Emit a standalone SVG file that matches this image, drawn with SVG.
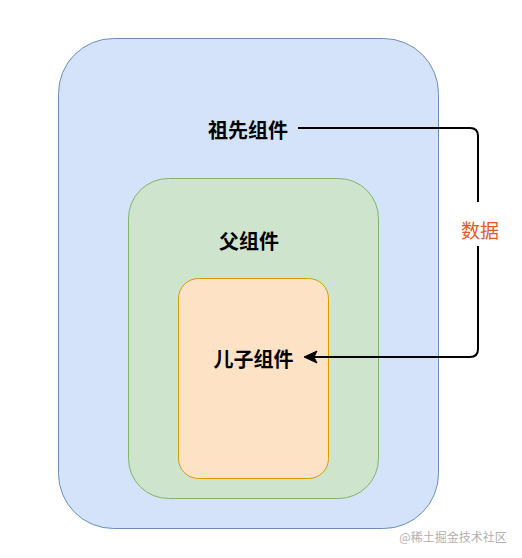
<svg xmlns="http://www.w3.org/2000/svg" width="522" height="558" viewBox="0 0 522 558">
<style>
.lbl{font-family:"Noto Sans CJK SC","Noto Sans",sans-serif;font-weight:bold;font-size:20px;fill:#000;text-anchor:middle;dominant-baseline:central}
.edge{fill:none;stroke:#000;stroke-width:2}
</style>
<rect width="522" height="558" fill="#fff"/>
<g id="ancestor">
<rect x="58.5" y="38.5" width="380" height="490" rx="55" ry="55" fill="#d4e3fa" stroke="#6c8ebf"/>
<text class="lbl" x="248" y="129">祖先组件</text>
</g>
<g id="parent">
<rect x="128.5" y="178.5" width="250" height="320" rx="40" ry="40" fill="#cfe4cd" stroke="#82b366"/>
<text class="lbl" x="249" y="240">父组件</text>
</g>
<g id="child">
<rect x="178.5" y="278.5" width="150" height="200" rx="20" ry="20" fill="#fde2c6" stroke="#d79b00"/>
<text class="lbl" x="253.5" y="358">儿子组件</text>
</g>
<g id="connectors">
<path class="edge" d="M298 128 H470 Q478 128 478 136 V202"/>
<path class="edge" d="M478 246 V349 Q478 357 470 357 H312"/>
<path d="M304 357 L317 351 L314 357 L317 363 Z" fill="#000" stroke="#000" stroke-width="1"/>
<text x="480" y="229" font-family="Noto Sans CJK SC,sans-serif" font-size="19" fill="#e8582a" text-anchor="middle" dominant-baseline="central">数据</text>
</g>
<text x="453" y="542" font-family="Noto Sans CJK SC,sans-serif" font-size="12" fill="#b0b0b0" text-anchor="middle">@稀土掘金技术社区</text>
</svg>
